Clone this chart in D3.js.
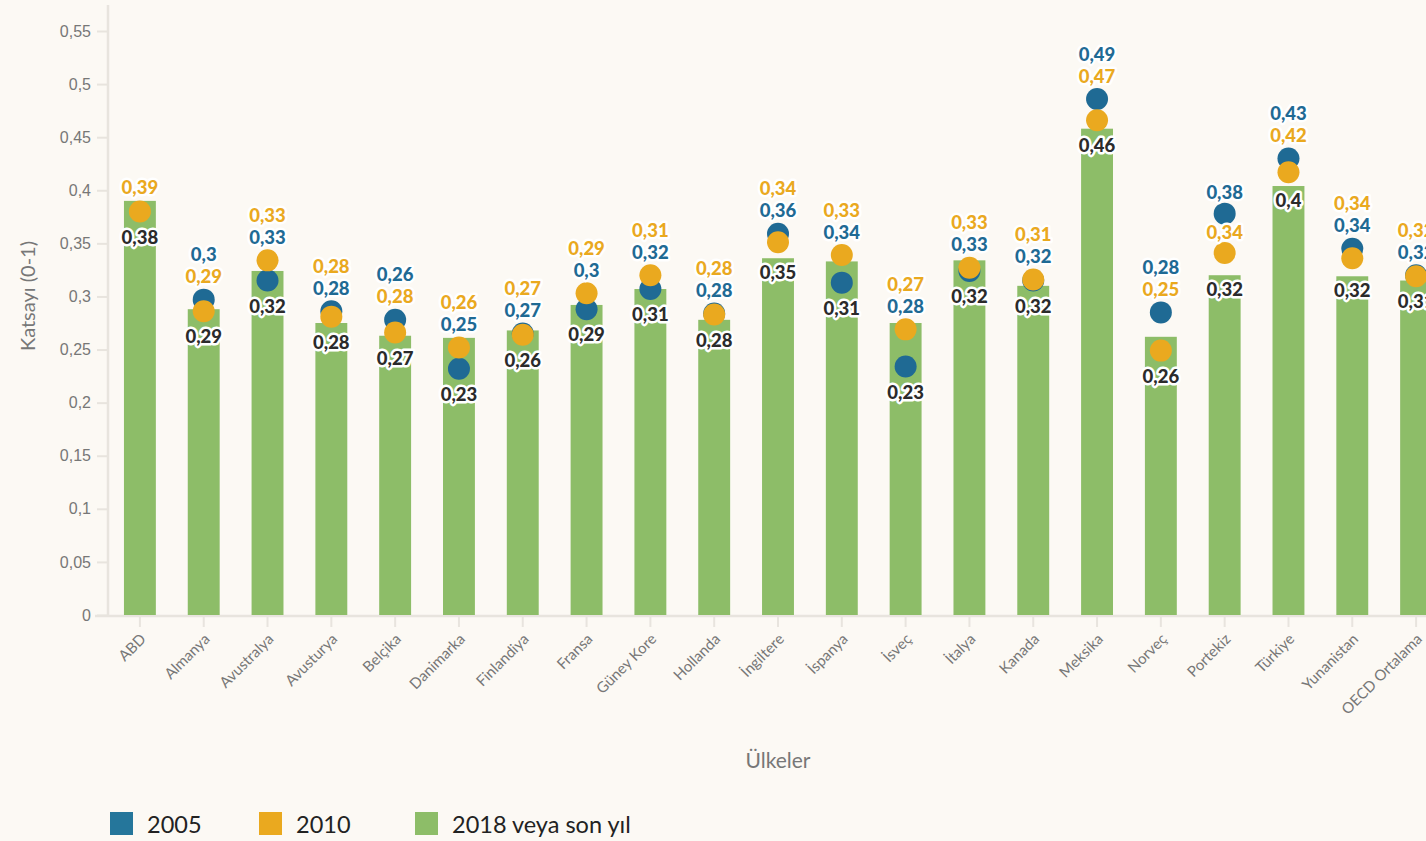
<!DOCTYPE html>
<html>
<head>
<meta charset="utf-8">
<script src="https://cdn.jsdelivr.net/npm/d3@7"></script>
<style>
	body { margin: 0; background: #fcf9f4; }
	svg { display: block; font-family: "Source Sans Pro", Lato, sans-serif; }
</style>
</head>
<body>
<div class="viz"></div>
<script>
let categories = ["ABD", "Almanya", "Avustralya", "Avusturya", "Belçika", "Danimarka", "Finlandiya", "Fransa", "Güney Kore", "Hollanda", "İngiltere", "İspanya", "İsveç", "İtalya", "Kanada", "Meksika", "Norveç", "Portekiz", "Türkiye", "Yunanistan", "OECD Ortalama"];

// dot / bar values
let v2005 = [null, 0.297, 0.315, 0.286, 0.278, 0.232, 0.265, 0.288, 0.307, 0.284, 0.359, 0.313, 0.234, 0.324, 0.315, 0.486, 0.285, 0.378, 0.430, 0.345, 0.320];
let v2010 = [0.380, 0.286, 0.334, 0.281, 0.266, 0.252, 0.264, 0.303, 0.320, 0.283, 0.351, 0.339, 0.269, 0.327, 0.316, 0.466, 0.249, 0.341, 0.417, 0.336, 0.319];
let v2018 = [0.390, 0.288, 0.324, 0.275, 0.263, 0.261, 0.268, 0.292, 0.307, 0.278, 0.336, 0.333, 0.275, 0.334, 0.310, 0.458, 0.262, 0.320, 0.404, 0.319, 0.315];

// value labels as printed on the chart
let lab2005 = ["", "0,3", "0,33", "0,28", "0,26", "0,25", "0,27", "0,3", "0,32", "0,28", "0,36", "0,34", "0,28", "0,33", "0,32", "0,49", "0,28", "0,38", "0,43", "0,34", "0,32"];
let lab2010 = ["0,39", "0,29", "0,33", "0,28", "0,28", "0,26", "0,27", "0,29", "0,31", "0,28", "0,34", "0,33", "0,27", "0,33", "0,31", "0,47", "0,25", "0,34", "0,42", "0,34", "0,32"];
let lab2018 = ["0,38", "0,29", "0,32", "0,28", "0,27", "0,23", "0,26", "0,29", "0,31", "0,28", "0,35", "0,31", "0,23", "0,32", "0,32", "0,46", "0,26", "0,32", "0,4", "0,32", "0,31"];

let yTicks = [0, 0.05, 0.1, 0.15, 0.2, 0.25, 0.3, 0.35, 0.4, 0.45, 0.5, 0.55];
let legendItems = ["2005", "2010", "2018 veya son yıl"];

let blue = "#1f6a94", orange = "#eaa91f", green = "#8dbd68";
let legendColors = ["#25769b", orange, green];

let width = 1426, height = 841, r = 11;

let svg = d3.select('.viz').append('svg')
	.attr('width', width)
	.attr('height', height);

svg.append('rect')
	.attr('width', width)
	.attr('height', height)
	.attr('fill', '#fcf9f4');

let x = d3.scaleBand()
	.domain(categories)
	.range([108, 1448])
	.paddingInner(0.5)
	.paddingOuter(0.25);

let y = d3.scaleLinear()
	.domain([0, 0.55])
	.range([615, 31]);

let fmt = v => d3.format(".2~f")(v).replace(".", ",");

// y axis
let yAxis = svg.append('g').attr('transform', 'translate(108,0)')
	.call(d3.axisLeft(y).tickValues(yTicks).tickFormat(fmt).tickSize(11).tickPadding(6));
yAxis.select('.domain').remove();
yAxis.selectAll('line').attr('stroke', '#e8e4de').attr('stroke-width', 2);
yAxis.selectAll('text').attr('fill', '#777').style('font-size', '16px');

svg.append('line')
	.attr('x1', 108).attr('x2', 108)
	.attr('y1', 5).attr('y2', 616)
	.attr('stroke', '#e8e4de').attr('stroke-width', 2.5);

// x axis
svg.append('line')
	.attr('x1', 95).attr('x2', width)
	.attr('y1', 616).attr('y2', 616)
	.attr('stroke', '#e8e4de').attr('stroke-width', 2.5);

let xg = svg.append('g');
categories.forEach(function(c) {
	let cx = x(c) + x.bandwidth() / 2;
	xg.append('line')
		.attr('x1', cx).attr('x2', cx)
		.attr('y1', 617).attr('y2', 627)
		.attr('stroke', '#e8e4de').attr('stroke-width', 2);
	xg.append('text')
		.attr('transform', 'translate(' + (cx + 7) + ',640) rotate(-45)')
		.attr('text-anchor', 'end')
		.attr('fill', '#777')
		.style('font-size', '15px')
		.text(c);
});

svg.append('text')
	.attr('x', 778).attr('y', 768)
	.attr('text-anchor', 'middle')
	.attr('fill', '#777')
	.style('font-size', '21px')
	.text('Ülkeler');

svg.append('text')
	.attr('transform', 'translate(35,296) rotate(-90)')
	.attr('text-anchor', 'middle')
	.attr('fill', '#777')
	.style('font-size', '20px')
	.text('Katsayı (0-1)');

// bars
svg.append('g').selectAll('rect')
	.data(categories)
	.enter().append('rect')
	.attr('x', d => x(d))
	.attr('width', x.bandwidth())
	.attr('y', (d, i) => y(v2018[i]))
	.attr('height', (d, i) => y(0) - y(v2018[i]))
	.attr('fill', green);

// dots
let dots = svg.append('g');
categories.forEach(function(c, i) {
	let cx = x(c) + x.bandwidth() / 2;
	if (v2005[i] != null) {
		dots.append('circle').attr('cx', cx).attr('cy', y(v2005[i])).attr('r', r).attr('fill', blue);
	}
	dots.append('circle').attr('cx', cx).attr('cy', y(v2010[i])).attr('r', r).attr('fill', orange);
});

// labels
let labels = svg.append('g')
	.style('font-size', '18.5px')
	.style('font-weight', '900');

function label(cx, cy, txt, color) {
	labels.append('text')
		.attr('x', cx).attr('y', cy)
		.attr('dy', '0.36em')
		.attr('text-anchor', 'middle')
		.attr('fill', color)
		.attr('stroke', '#fff')
		.attr('stroke-width', 5)
		.attr('stroke-linejoin', 'round')
		.attr('paint-order', 'stroke')
		.text(txt);
}

categories.forEach(function(c, i) {
	let cx = x(c) + x.bandwidth() / 2;
	let yo = y(v2010[i]);
	let lowest = yo;
	if (v2005[i] == null) {
		label(cx, yo - 24, lab2010[i], orange);
	} else {
		let yb = y(v2005[i]);
		lowest = Math.max(yb, yo);
		let blueTop = (yo - yb) > 11;
		let T = blueTop ? {y: yb, t: lab2005[i], c: blue} : {y: yo, t: lab2010[i], c: orange};
		let B = blueTop ? {y: yo, t: lab2010[i], c: orange} : {y: yb, t: lab2005[i], c: blue};
		let bY = B.y - 21;
		if (B.y - T.y < 39) bY = Math.min(bY, Math.min(T.y, B.y) - r - 12);
		let tY = Math.min(T.y - 21, bY - 22);
		label(cx, bY, B.t, B.c);
		label(cx, tY, T.t, T.c);
	}
	let barLab = Math.max(y(v2018[i]), lowest + r) + 14.5;
	label(cx, barLab, lab2018[i], '#2b2b2b');
});

// legend
let legend = svg.append('g');
let legendX = [110, 259, 415];
legendItems.forEach(function(l, i) {
	legend.append('rect')
		.attr('x', legendX[i]).attr('y', 812)
		.attr('width', 23).attr('height', 23)
		.attr('fill', legendColors[i]);
	legend.append('text')
		.attr('x', legendX[i] + 37).attr('y', 833)
		.attr('fill', '#222')
		.style('font-size', '23.5px')
		.text(l);
});
</script>
</body>
</html>
